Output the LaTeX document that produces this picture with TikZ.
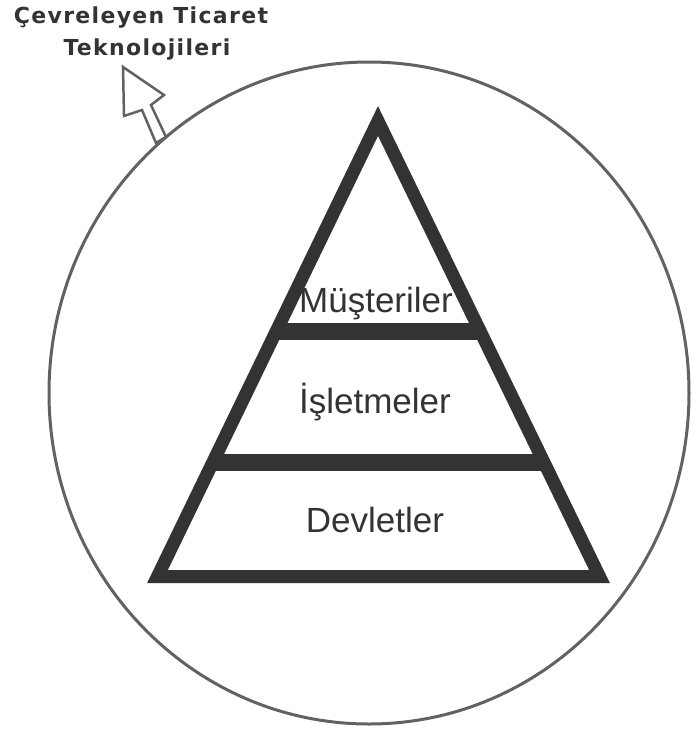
\documentclass[tikz,border=0pt]{standalone}
\usepackage{fontspec}
\setmainfont{Liberation Sans}
\newfontfamily\titlefont[LetterSpace=6]{DejaVu Sans}
\usetikzlibrary{calc}
\definecolor{ringgray}{HTML}{626262}
\definecolor{pyrdark}{HTML}{333333}
\tikzset{
  ring/.style={draw=ringgray, line width=3pt},
  pyrside/.style={draw=pyrdark, line width=13pt, line join=miter},
  pyrband/.style={draw=pyrdark, line width=17pt},
  levellabel/.style={anchor=base, inner sep=0pt, text=pyrdark, font=\fontsize{35}{40}\selectfont},
  titlelabel/.style={anchor=base, inner sep=0pt, text=pyrdark, font=\titlefont\bfseries\fontsize{22}{26}\selectfont},
  hollowarrow/.style={draw=ringgray, line width=2.5pt, line join=miter, fill=white}
}
\begin{document}
\begin{tikzpicture}[x=1pt,y=-1pt]
\useasboundingbox (0,0) rectangle (691,732);
% surrounding circle
\coordinate (c) at (369,393);
\draw[ring] (c) ellipse [x radius=320, y radius=331];
% hollow arrow out of the circle
\coordinate (tip) at (123,67);
\coordinate (hl) at (124,116);
\coordinate (sl1) at (142,110);
\coordinate (sl2) at (156,143);
\coordinate (sr2) at (166,137);
\coordinate (sr1) at (151,105);
\coordinate (hr) at (164,95);
\draw[hollowarrow] (tip) -- (hl) -- (sl1) -- (sl2) -- (sr2) -- (sr1) -- (hr) -- cycle;
% pyramid
\coordinate (apex) at (378,121);
\coordinate (bl) at (157.5,576.5);
\coordinate (br) at (599.5,576.5);
\draw[pyrside] (apex) -- (bl) -- (br) -- cycle;
\draw[pyrband] ($(apex)!0.463!(bl)$) -- ($(apex)!0.463!(br)$);
\draw[pyrband] ($(apex)!0.749!(bl)$) -- ($(apex)!0.749!(br)$);
% labels
\node[levellabel] (must) at (376,312) {Müşteriler};
\node[levellabel] (isl) at (375,413) {İşletmeler};
\node[levellabel] (dev) at (375,532) {Devletler};
\node[titlelabel] (t1) at (141,23) {Çevreleyen Ticaret};
\node[titlelabel] (t2) at (147,55) {Teknolojileri};
\end{tikzpicture}
\end{document}
